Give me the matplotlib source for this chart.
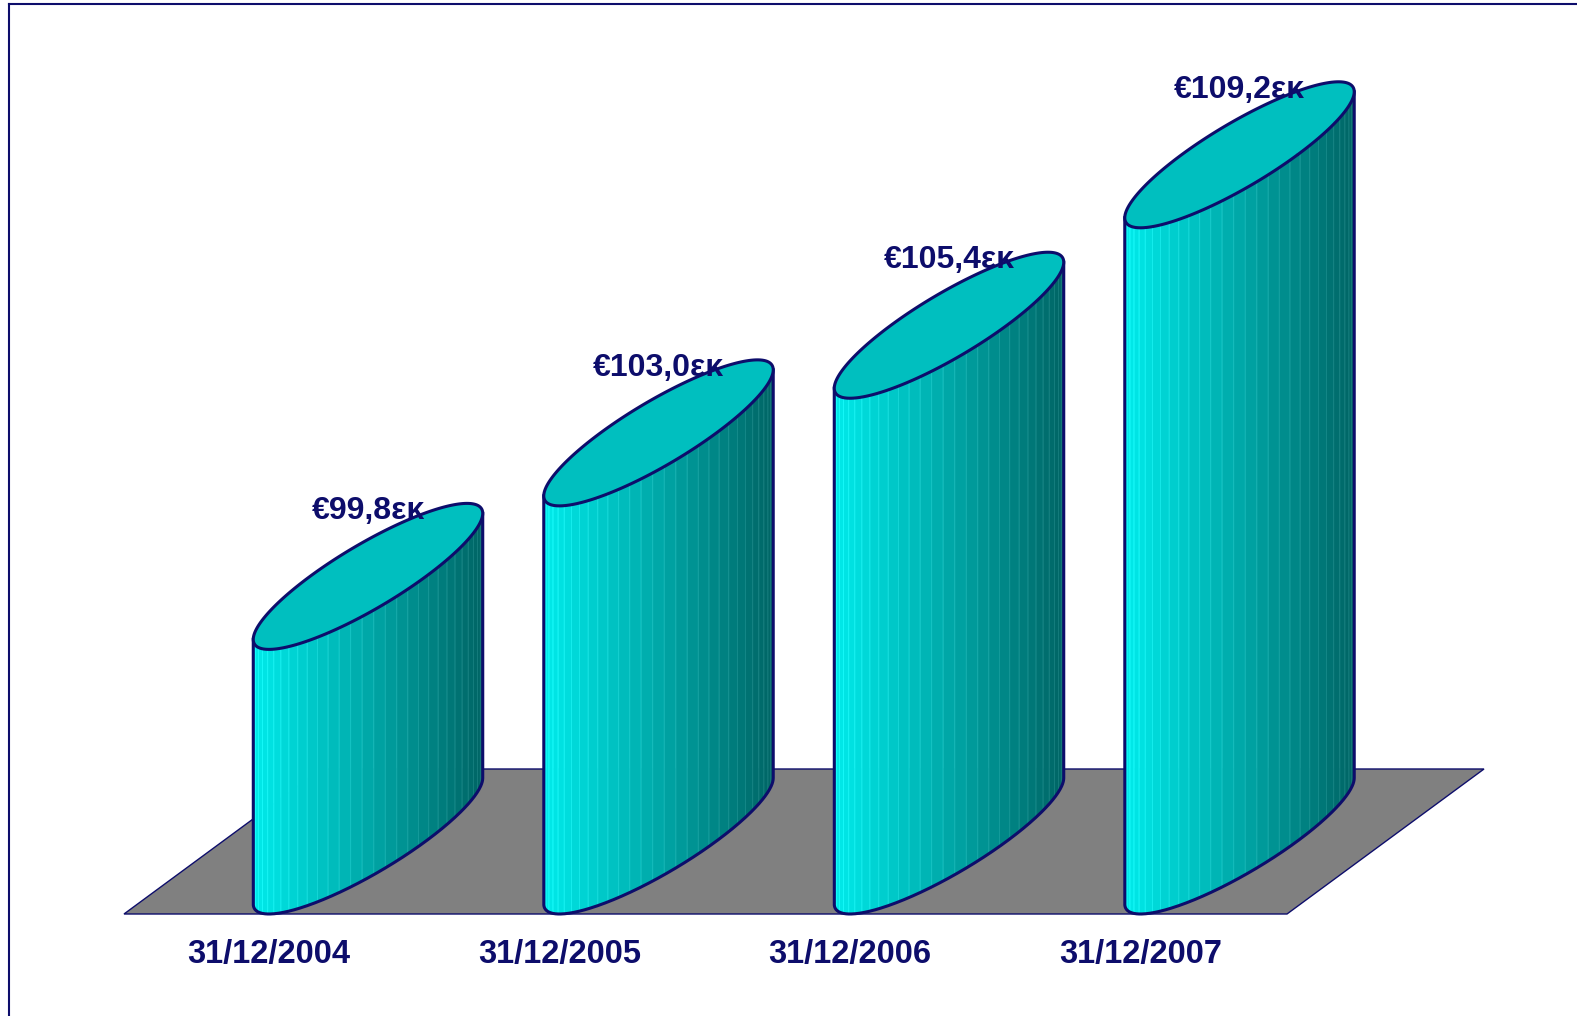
import numpy as np
import matplotlib.pyplot as plt
from matplotlib.patches import Polygon

# chart data
dates = ['31/12/2004', '31/12/2005', '31/12/2006', '31/12/2007']
values = [99.8, 103.0, 105.4, 109.2]
value_labels = ['€99,8', '€103,0', '€105,4', '€109,2']
unit_label = 'εκ'

W, H = 1577, 1016
fig = plt.figure(figsize=(W / 100, H / 100), dpi=100)
ax = fig.add_axes([0, 0, 1, 1])
ax.set_xlim(0, W)
ax.set_ylim(H, 0)
ax.axis('off')

navy = '#0d0d6b'
font = ['Liberation Sans', 'DejaVu Sans']

# projection of the 3d scene (pixels)
x0, step = 368, 290.5          # centre of first cylinder, spacing
base_y = 841                   # centre of the base ellipses
v0, k = 93.9, 44.85            # value at the floor, pixels per unit
a, bx, by = 58, 99, -73        # ellipse axes (width, depth)


def ellipse(cx, cy, t):
    return cx + a * np.cos(t) + bx * np.sin(t), cy + by * np.sin(t)


# floor
floor = Polygon([(124, 914), (1287, 914), (1484, 769), (321, 769)],
                closed=True, facecolor='#808080', edgecolor=navy, lw=1, zorder=1)
ax.add_patch(floor)

t_left = np.arctan2(bx, a) + np.pi
t_right = np.arctan2(bx, a) + 2 * np.pi
light = np.array([0, 235, 235]) / 255
dark = np.array([0, 100, 100]) / 255

for i, (v, lab) in enumerate(zip(values, value_labels)):
    cx = x0 + step * i
    top_y = base_y - (v - v0) * k
    xl = ellipse(cx, 0, t_left)[0]
    xr = ellipse(cx, 0, t_right)[0]

    # side facets
    ts = np.linspace(t_left, t_right, 32)
    for t1, t2 in zip(ts[:-1], ts[1:]):
        (xa, ya_t), (xb, yb_t) = ellipse(cx, top_y, t1), ellipse(cx, top_y, t2)
        ya_b, yb_b = ellipse(cx, base_y, t1)[1], ellipse(cx, base_y, t2)[1]
        f = ((xa + xb) / 2 - xl) / (xr - xl)
        c = light + (dark - light) * f
        edge = np.clip(c + 0.08, 0, 1)
        ax.add_patch(Polygon([(xa, ya_t), (xb, yb_t), (xb, yb_b), (xa, ya_b)],
                             closed=True, facecolor=c, edgecolor=edge, lw=0.7, zorder=2))

    # outline of the body
    tt = np.linspace(t_left, t_right, 200)
    bxs, bys = ellipse(cx, base_y, tt)
    txl, tyl = ellipse(cx, top_y, t_left)
    txr, tyr = ellipse(cx, top_y, t_right)
    ax.plot(np.r_[txl, bxs, txr], np.r_[tyl, bys, tyr], color=navy, lw=2.2,
            solid_joinstyle='round', zorder=3)

    # top ellipse
    tt = np.linspace(0, 2 * np.pi, 200)
    ex, ey = ellipse(cx, top_y, tt)
    ax.add_patch(Polygon(np.c_[ex, ey], closed=True, facecolor='#00bfbf',
                         edgecolor=navy, lw=2.2, zorder=4))

    # value label
    ax.text(cx, top_y - 57, lab + unit_label, ha='center', va='baseline', fontsize=23,
            fontweight='bold', color=navy, family=font, zorder=5)

    # category label
    ax.text(cx - bx, 955, dates[i], ha='center', va='center', fontsize=23.5,
            fontweight='bold', color=navy, family=font)

# frame
ax.plot([9, 9], [4, H], color=navy, lw=1.5)
ax.plot([9, W], [4, 4], color=navy, lw=1.5)

fig.savefig('out.png', dpi=100)
